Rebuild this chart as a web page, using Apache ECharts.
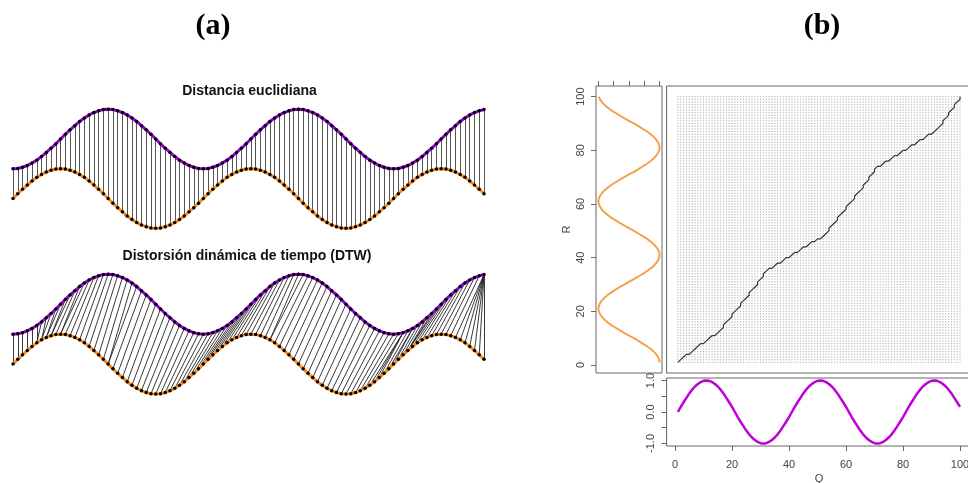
<!DOCTYPE html>
<html><head><meta charset="utf-8">
<script src="https://cdn.jsdelivr.net/npm/echarts@6/dist/echarts.min.js"></script>
<style>html,body{margin:0;padding:0;background:#fff}#c{width:968px;height:483px}</style>
</head><body><div id="c"></div>
<script>
// ---------- DATA ----------
// query series (orange in panel a, purple "Q" in panel b), index 0..99
const query = [0,0.16,0.31,0.45,0.59,0.71,0.81,0.89,0.95,0.99,1,0.99,0.95,0.89,0.81,0.71,0.59,0.45,0.31,0.16,
  0,-0.16,-0.31,-0.45,-0.59,-0.71,-0.81,-0.89,-0.95,-0.99,-1,-0.99,-0.95,-0.89,-0.81,-0.71,-0.59,-0.45,-0.31,-0.16,
  0,0.16,0.31,0.45,0.59,0.71,0.81,0.89,0.95,0.99,1,0.99,0.95,0.89,0.81,0.71,0.59,0.45,0.31,0.16,
  0,-0.16,-0.31,-0.45,-0.59,-0.71,-0.81,-0.89,-0.95,-0.99,-1,-0.99,-0.95,-0.89,-0.81,-0.71,-0.59,-0.45,-0.31,-0.16,
  0,0.16,0.31,0.45,0.59,0.71,0.81,0.89,0.95,0.99,1,0.99,0.95,0.89,0.81,0.71,0.59,0.45,0.31,0.16];
// reference series drawn in purple in panel (a)
const referenceA = [-1,-0.99,-0.95,-0.89,-0.81,-0.71,-0.59,-0.45,-0.31,-0.16,0,0.16,0.31,0.45,0.59,0.71,0.81,0.89,0.95,0.99,
  1,0.99,0.95,0.89,0.81,0.71,0.59,0.45,0.31,0.16,0,-0.16,-0.31,-0.45,-0.59,-0.71,-0.81,-0.89,-0.95,-0.99,
  -1,-0.99,-0.95,-0.89,-0.81,-0.71,-0.59,-0.45,-0.31,-0.16,0,0.16,0.31,0.45,0.59,0.71,0.81,0.89,0.95,0.99,
  1,0.99,0.95,0.89,0.81,0.71,0.59,0.45,0.31,0.16,0,-0.16,-0.31,-0.45,-0.59,-0.71,-0.81,-0.89,-0.95,-0.99,
  -1,-0.99,-0.95,-0.89,-0.81,-0.71,-0.59,-0.45,-0.31,-0.16,0,0.16,0.31,0.45,0.59,0.71,0.81,0.89,0.95,0.99];
// reference series "R" drawn in orange in panel (b), index 1..100
const referenceB = [1,0.99,0.95,0.89,0.81,0.71,0.59,0.45,0.31,0.16,0,-0.16,-0.31,-0.45,-0.59,-0.71,-0.81,-0.89,-0.95,-0.99,
  -1,-0.99,-0.95,-0.89,-0.81,-0.71,-0.59,-0.45,-0.31,-0.16,0,0.16,0.31,0.45,0.59,0.71,0.81,0.89,0.95,0.99,
  1,0.99,0.95,0.89,0.81,0.71,0.59,0.45,0.31,0.16,0,-0.16,-0.31,-0.45,-0.59,-0.71,-0.81,-0.89,-0.95,-0.99,
  -1,-0.99,-0.95,-0.89,-0.81,-0.71,-0.59,-0.45,-0.31,-0.16,0,0.16,0.31,0.45,0.59,0.71,0.81,0.89,0.95,0.99,
  1,0.99,0.95,0.89,0.81,0.71,0.59,0.45,0.31,0.16,0,-0.16,-0.31,-0.45,-0.59,-0.71,-0.81,-0.89,-0.95,-0.99];
// DTW alignment in panel (a): [purple index, orange index]
const dtwPathA = [[0,0],[1,1],[2,2],[3,3],[4,4],[5,5],[6,5],[7,6],[8,6],[9,7],[10,7],[11,8],[12,8],[13,9],[14,10],[15,10],
  [16,11],[17,12],[18,13],[19,14],[20,15],[21,16],[22,17],[23,18],[24,19],[25,20],[26,20],[27,21],[28,22],[29,23],[30,24],
  [31,25],[32,26],[33,27],[34,28],[35,29],[36,30],[37,31],[38,32],[39,33],[40,34],[41,35],[42,36],[43,37],[44,38],[45,39],
  [46,40],[47,41],[48,42],[49,43],[50,44],[51,45],[52,46],[53,47],[54,48],[55,49],[56,50],[57,51],[58,52],[59,53],[60,54],
  [61,54],[62,55],[63,56],[64,57],[65,58],[66,59],[67,60],[68,61],[69,62],[70,63],[71,64],[72,65],[73,66],[74,67],[75,68],
  [76,69],[77,70],[78,71],[79,72],[80,73],[81,74],[82,75],[82,76],[82,77],[83,78],[84,79],[84,80],[85,81],[86,82],[87,83],
  [88,83],[89,83],[90,84],[91,85],[92,86],[93,87],[94,88],[95,89],[96,90],[97,91],[98,92],[99,93],[99,94],[99,95],[99,96],
  [99,97],[99,98],[99,99]];
// DTW warping path in panel (b): [Q index, R index]
const dtwPathB = [[1,1],[2,2],[3,3],[4,4],[5,4],[6,5],[7,6],[8,7],[9,8],[10,8],[11,9],[12,10],[13,11],[14,11],[15,12],[16,13],
  [17,14],[17,15],[18,16],[19,17],[20,18],[20,19],[21,20],[22,21],[23,22],[23,23],[24,24],[25,25],[26,26],[26,27],[27,28],
  [28,29],[29,30],[29,31],[30,32],[31,33],[31,34],[32,35],
  [33,36],[34,36],[35,37],[36,38],[37,38],[38,39],[39,40],[40,40],[41,41],[42,42],[43,42],[44,43],[45,44],[46,44],[47,45],
  [48,46],[49,46],[50,47],[51,47],[52,48],
  [53,49],[54,50],[54,51],[55,52],[56,53],[57,54],[57,55],[58,56],[59,57],[60,58],[60,59],[61,60],[62,61],[63,62],[63,63],
  [64,64],[65,65],[66,66],[66,67],[67,68],[68,69],[68,70],[69,71],[70,72],[70,73],
  [71,74],[72,74],[73,75],[74,76],[75,76],[76,77],[77,78],[78,78],[79,79],[80,80],[81,80],[82,81],[83,82],[84,82],[85,83],
  [86,84],[87,84],[88,85],[89,86],[90,86],[91,87],[92,88],[93,89],
  [94,90],[94,91],[95,92],[96,93],[96,94],[97,95],[98,96],[98,97],[99,98],[100,99],[100,100]];
const indexTicks = [0,20,40,60,80,100];
const valueTicks = [-1,-0.5,0,0.5,1];
const valueLabels = [-1,0,1];
const panelLabels = ['(a)','(b)'];
const subTitles = ['Distancia euclidiana','Distorsión dinámica de tiempo (DTW)'];
const axisNames = ['Q','R'];

// ---------- CHART ----------
const OFFSET = 2; // vertical offset of the purple series in panel (a)
const PURPLE_A = '#9400d3', ORANGE_A = '#ff8c1a', PURPLE_B = '#c000d8', ORANGE_B = '#f5a14c';
const sans = 'Liberation Sans, Arial, sans-serif';
const idxMin = -2.96, idxMax = 103.96, valMin = -1.08, valMax = 1.08;
const lab = {color:'#444', fontSize:11, fontFamily:sans};
const noLine = {show:false, onZero:false};

const gridDots = [];
for (let q = 1; q <= query.length; q++) for (let r = 1; r <= referenceB.length; r++) gridDots.push([q, r]);

const chart = echarts.init(document.getElementById('c'), null, {renderer:'canvas'});
const hidden = {show:false};
const box = {show:true, borderColor:'#666', borderWidth:1, outerBoundsMode:'none', containLabel:false};
chart.setOption({
  animation:false,
  backgroundColor:'#fff',
  grid:[
    {left:13, top:109.3, width:471, height:118.9, show:false, outerBoundsMode:'none'},
    {left:13, top:274.3, width:471, height:119.7, show:false, outerBoundsMode:'none'},
    Object.assign({left:596, top:86, width:66, height:287}, box),
    Object.assign({left:666.6, top:86, width:304.7, height:287}, box),
    Object.assign({left:666.6, top:378, width:304.7, height:68}, box)
  ],
  xAxis:[
    {gridIndex:0, type:'value', min:0, max:99, show:false},
    {gridIndex:1, type:'value', min:0, max:99, show:false},
    {gridIndex:2, type:'value', min:valMin, max:valMax, position:'top',
      axisLine:noLine, splitLine:hidden, axisLabel:hidden,
      axisTick:{show:true, length:5, customValues:valueTicks, lineStyle:{color:'#666'}}},
    {gridIndex:3, type:'value', min:idxMin, max:idxMax, show:false},
    {gridIndex:4, type:'value', min:idxMin, max:idxMax, position:'bottom',
      axisLine:noLine, splitLine:hidden,
      axisTick:{show:true, length:5, customValues:indexTicks, lineStyle:{color:'#666'}},
      axisLabel:Object.assign({show:true, margin:13, customValues:indexTicks}, lab),
      name:axisNames[0], nameLocation:'middle', nameGap:27, nameTextStyle:lab}
  ],
  yAxis:[
    {gridIndex:0, type:'value', min:-1, max:3, show:false},
    {gridIndex:1, type:'value', min:-1, max:3, show:false},
    {gridIndex:2, type:'value', min:idxMin, max:idxMax, position:'left',
      axisLine:noLine, splitLine:hidden,
      axisTick:{show:true, length:5, customValues:indexTicks, lineStyle:{color:'#666'}},
      axisLabel:Object.assign({show:true, rotate:90, margin:10, customValues:indexTicks}, lab),
      name:axisNames[1], nameLocation:'middle', nameRotate:90, nameGap:24, nameTextStyle:lab},
    {gridIndex:3, type:'value', min:idxMin, max:idxMax, show:false},
    {gridIndex:4, type:'value', min:valMin, max:valMax, position:'left',
      axisLine:noLine, splitLine:hidden,
      axisTick:{show:true, length:5, customValues:valueTicks, lineStyle:{color:'#666'}},
      axisLabel:Object.assign({show:true, rotate:90, margin:10, customValues:valueLabels,
        formatter:v=>Number(v).toFixed(1)}, lab)}
  ],
  series:[
    // panel (a) top: Euclidean
    {type:'lines', coordinateSystem:'cartesian2d', xAxisIndex:0, yAxisIndex:0, z:1, silent:true,
      lineStyle:{color:'#555', width:1, opacity:1},
      data:query.map((q,i)=>({coords:[[i, referenceA[i]+OFFSET],[i, q]]}))},
    {type:'line', xAxisIndex:0, yAxisIndex:0, z:3, clip:false, symbol:'circle', symbolSize:3.5,
      itemStyle:{color:'#000'}, lineStyle:{color:PURPLE_A, width:3},
      data:referenceA.map((v,i)=>[i, v+OFFSET])},
    {type:'line', xAxisIndex:0, yAxisIndex:0, z:3, clip:false, symbol:'circle', symbolSize:3.5,
      itemStyle:{color:'#000'}, lineStyle:{color:ORANGE_A, width:3},
      data:query.map((v,i)=>[i, v])},
    // panel (a) bottom: DTW
    {type:'lines', coordinateSystem:'cartesian2d', xAxisIndex:1, yAxisIndex:1, z:1, silent:true,
      lineStyle:{color:'#222', width:0.9, opacity:1},
      data:dtwPathA.map(p=>({coords:[[p[0], referenceA[p[0]]+OFFSET],[p[1], query[p[1]]]]}))},
    {type:'line', xAxisIndex:1, yAxisIndex:1, z:3, clip:false, symbol:'circle', symbolSize:3.5,
      itemStyle:{color:'#000'}, lineStyle:{color:PURPLE_A, width:3},
      data:referenceA.map((v,i)=>[i, v+OFFSET])},
    {type:'line', xAxisIndex:1, yAxisIndex:1, z:3, clip:false, symbol:'circle', symbolSize:3.5,
      itemStyle:{color:'#000'}, lineStyle:{color:ORANGE_A, width:3},
      data:query.map((v,i)=>[i, v])},
    // panel (b): R series
    {type:'line', xAxisIndex:2, yAxisIndex:2, symbol:'none', lineStyle:{color:ORANGE_B, width:2},
      data:referenceB.map((v,i)=>[v, i+1])},
    // panel (b): cost-matrix dots and warping path
    {type:'scatter', xAxisIndex:3, yAxisIndex:3, large:true, largeThreshold:1000, symbolSize:1, silent:true,
      itemStyle:{color:'#b4b4b4'}, data:gridDots},
    {type:'line', xAxisIndex:3, yAxisIndex:3, symbol:'none', z:4, lineStyle:{color:'#333', width:1.2},
      data:dtwPathB},
    // panel (b): Q series
    {type:'line', xAxisIndex:4, yAxisIndex:4, symbol:'none', lineStyle:{color:PURPLE_B, width:2.5},
      data:query.map((v,i)=>[i+1, v])}
  ],
  graphic:[
    {type:'text', x:213, y:26, style:{text:panelLabels[0], font:'bold 30px "Liberation Serif", serif', fill:'#000', align:'center', verticalAlign:'middle'}},
    {type:'text', x:822, y:26, style:{text:panelLabels[1], font:'bold 30px "Liberation Serif", serif', fill:'#000', align:'center', verticalAlign:'middle'}},
    {type:'text', x:249.5, y:91.5, style:{text:subTitles[0], font:'bold 14px "Liberation Sans", Arial, sans-serif', fill:'#111', align:'center', verticalAlign:'middle'}},
    {type:'text', x:247, y:256, style:{text:subTitles[1], font:'bold 14px "Liberation Sans", Arial, sans-serif', fill:'#111', align:'center', verticalAlign:'middle'}}
  ]
});
</script>
</body></html>
